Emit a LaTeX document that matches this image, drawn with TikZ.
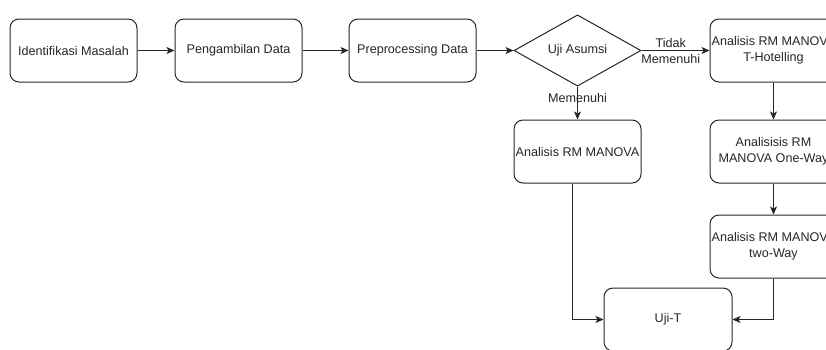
\documentclass[tikz,border=0pt]{standalone}
\usepackage{fontspec}
\setmainfont{Liberation Sans}
\usetikzlibrary{shapes.geometric,arrows.meta}
\begin{document}
\begin{tikzpicture}[x=1pt,y=-1pt,
  box/.style={draw=black!85, line width=1pt, rounded corners=9pt, minimum width=127pt, minimum height=63pt, align=center, inner sep=0pt, font=\fontsize{12.6}{16}\selectfont, text=black!85},
  conn/.style={draw=black!85, line width=1pt, -{Stealth[length=8pt,width=7pt,inset=2pt]}},
  lbl/.style={font=\fontsize{12.6}{16}\selectfont, text=black!85, align=center, inner sep=0pt}]
\useasboundingbox (0,0) rectangle (826,349);
\clip (0,0) rectangle (826,349);
\node[box] (b1) at (73.5,50.5) {Identifikasi Masalah};
\node[box] (b2) at (238.5,50.5) {Pengambilan Data};
\node[box] (b3) at (412.5,50.5) {Preprocessing Data};
\node[draw=black!85, line width=1pt, diamond, minimum width=127pt, minimum height=71pt, inner sep=0pt, font=\fontsize{12.6}{16}\selectfont, text=black!85] (d) at (577.5,50.5) {Uji Asumsi};
\node[box] (t1) at (773.5,50.5) {Analisis RM MANOVA\\T-Hotelling};
\node[box] (m) at (577.5,151.5) {Analisis RM MANOVA};
\node[box] (t2) at (773.5,151.5) {Analisisis RM\\MANOVA One-Way};
\node[box] (t3) at (773.5,246.5) {Analisis RM MANOVA\\two-Way};
\node[box, minimum width=128pt] (u) at (668,319.5) {Uji-T};
\draw[conn] (b1) -- (b2);
\draw[conn] (b2) -- (b3);
\draw[conn] (b3) -- (d.west);
\draw[conn] (d.east) -- node[lbl, pos=0.43] {Tidak\\Memenuhi} (t1.west);
\draw[conn] (d.south) -- node[lbl, pos=0.35] {Memenuhi} (m.north);
\draw[conn] (t1) -- (t2);
\draw[conn] (t2) -- (t3);
\draw[conn] ([xshift=-5.5pt]m.south) |- (u.west);
\draw[conn] (t3.south) |- (u.east);
\end{tikzpicture}
\end{document}
